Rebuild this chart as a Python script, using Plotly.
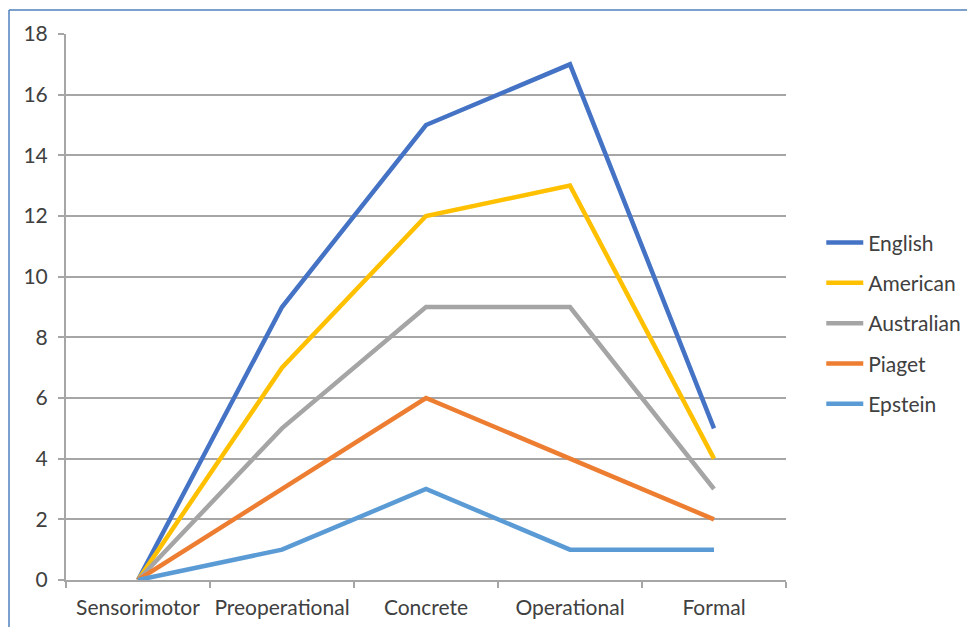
import plotly.graph_objects as go

categories = ["Sensorimotor", "Preoperational", "Concrete", "Operational", "Formal"]
english = [0, 9, 15, 17, 5]
american = [0, 7, 12, 13, 4]
australian = [0, 5, 9, 9, 3]
piaget = [0, 3, 6, 4, 2]
epstein = [0, 1, 3, 1, 1]
y_ticks = [0, 2, 4, 6, 8, 10, 12, 14, 16, 18]

series = [
    ("English", english, "#4472C4"),
    ("American", american, "#FFC000"),
    ("Australian", australian, "#A5A5A5"),
    ("Piaget", piaget, "#ED7D31"),
    ("Epstein", epstein, "#5B9BD5"),
]

fig = go.Figure()
for name, vals, col in series:
    fig.add_trace(go.Scatter(
        x=categories, y=vals, name=name, mode="lines",
        line=dict(color=col, width=4.5), legendgroup=name,
    ))

# page body has an 8px margin
W, H = 967, 619
L, T = 58, 26
pw, ph = 720, 546
R = W - L - pw
B = H - T - ph

fig.update_layout(
    width=W, height=H,
    margin=dict(l=L, r=R, t=T, b=B, autoexpand=False),
    paper_bgcolor="white", plot_bgcolor="white",
    font=dict(family="Lato, Open Sans, sans-serif", size=21, color="#404040"),
    showlegend=True,
    legend=dict(
        x=1.049, xanchor="left", y=0.47, yanchor="middle",
        font=dict(size=21, color="#404040"),
        traceorder="grouped", tracegroupgap=10, itemwidth=37,
        bgcolor="rgba(0,0,0,0)",
    ),
    xaxis=dict(
        type="category", range=[-0.5, 4.5], automargin=False, tickangle=0,
        showgrid=False, showline=True, linecolor="#A6A6A6", linewidth=2,
        ticks="outside", tickson="boundaries", ticklen=6, tickcolor="#A6A6A6", tickwidth=2,
        tickfont=dict(size=21, color="#404040"), ticklabelstandoff=8,
    ),
    yaxis=dict(
        range=[0, 18], tickvals=y_ticks, ticktext=[str(v) for v in y_ticks],
        automargin=False,
        showgrid=True, gridcolor="#A6A6A6", gridwidth=1.5,
        showline=True, linecolor="#A6A6A6", linewidth=2,
        ticks="outside", ticklen=6, tickcolor="#A6A6A6", tickwidth=2,
        zeroline=False,
        tickfont=dict(size=21, color="#404040"), ticklabelstandoff=6,
    ),
)

# chart-area border (top and left visible)
bx0 = (1 - L) / pw
by1 = (T + ph - 2) / ph
fig.add_shape(type="line", xref="paper", yref="paper",
              x0=bx0, x1=(W + 20 - L) / pw, y0=by1, y1=by1,
              line=dict(color="#4F81BD", width=1.5))
fig.add_shape(type="line", xref="paper", yref="paper",
              x0=bx0, x1=bx0, y0=by1, y1=-(B + 20) / ph,
              line=dict(color="#4F81BD", width=1.5))

fig.write_html("out.html")
